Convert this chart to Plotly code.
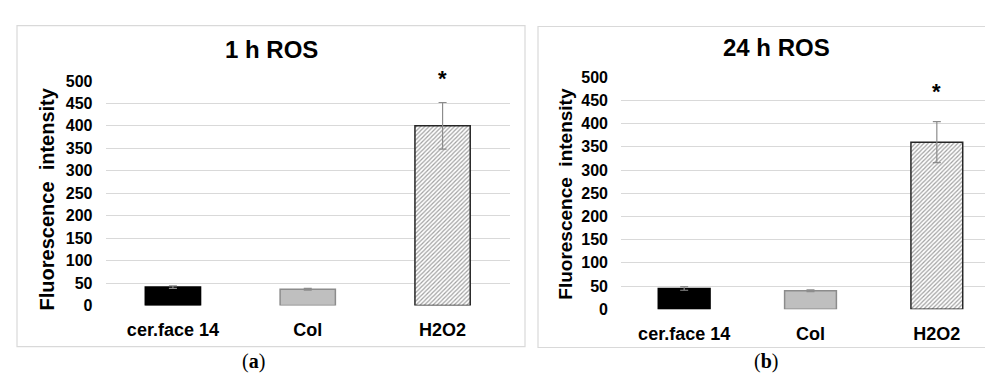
import plotly.graph_objects as go

categories = ["cer.face 14", "Col", "H2O2"]
ros_1h = [41, 36, 400]
ros_1h_err = [3, 2, 52]
ros_24h = [45, 40, 360]
ros_24h_err = [4, 2, 44]
stars = ["", "", "*"]
y_ticks = [0, 50, 100, 150, 200, 250, 300, 350, 400, 450, 500]

W, H = 993, 381
fill_colors = ["#000000", "#bfbfbf", "#ffffff"]
line_colors = ["#000000", "#8c8c8c", "#262626"]
patterns = ["", "", "/"]

fig = go.Figure()

def add_panel(vals, errs, xa, ya, star_shift):
    fig.add_trace(go.Bar(
        x=categories, y=vals, xaxis=xa, yaxis=ya, width=0.41,
        marker=dict(color=fill_colors, line=dict(color=line_colors, width=1.5),
                    pattern=dict(shape=patterns, fgcolor="#333333", bgcolor="#ffffff",
                                 size=3, solidity=0.4)),
        error_y=dict(type="data", array=errs, color="#8c8c8c", thickness=1.2, width=4),
        showlegend=False, hoverinfo="skip"))
    for c, v, e, s in zip(categories, vals, errs, stars):
        if s:
            fig.add_annotation(x=c, y=v + e, xref=xa, yref=ya, text=s,
                               showarrow=False, yanchor="bottom", yshift=star_shift,
                               font=dict(family="Liberation Sans", size=22, color="#000", weight="bold"))

add_panel(ros_1h, ros_1h_err, "x", "y", 10)
add_panel(ros_24h, ros_24h_err, "x2", "y2", 16)

ax_common = dict(showline=False, ticks="",
                 tickfont=dict(family="Liberation Sans", size=18, color="#000", weight=700),
                 showgrid=False, zeroline=False, ticklabelstandoff=12)
ay_common = dict(range=[0, 500], tickvals=y_ticks,
                 showgrid=True, gridcolor="#d9d9d9", gridwidth=1, zeroline=False, showline=False,
                 tickfont=dict(family="Liberation Sans", size=16, color="#000", weight=700),
                 ticklabelstandoff=12)

fig.update_layout(
    width=W, height=H, margin=dict(l=0, r=0, t=0, b=0),
    paper_bgcolor="#ffffff", plot_bgcolor="#ffffff",
    xaxis=dict(domain=[97.5 / W, 502 / W], anchor="y", **ax_common),
    yaxis=dict(domain=[(H - 303) / H, (H - 68) / H], anchor="x", **ay_common),
    xaxis2=dict(domain=[613 / W, 992 / W], anchor="y2", **ax_common),
    yaxis2=dict(domain=[(H - 307) / H, (H - 64) / H], anchor="x2", **ay_common),
)

# panel borders
for x0, x1, y0, y1 in [(9, 517, 10, 346), (530, 992, 11, 347)]:
    fig.add_shape(type="rect", xref="paper", yref="paper",
                  x0=x0 / W, x1=x1 / W, y0=1 - y0 / H, y1=1 - y1 / H,
                  line=dict(color="#d9d9d9", width=1.2), fillcolor="rgba(0,0,0,0)", layer="below")

def ann(x, y, text, size, family="Liberation Sans", angle=0, weight="bold"):
    fig.add_annotation(x=x / W, y=1 - y / H, xref="paper", yref="paper", text=text,
                       showarrow=False, textangle=angle, xanchor="center", yanchor="middle",
                       font=dict(family=family, size=size, color="#000", weight=weight))

ann(263, 35, "1 h ROS", 24)
ann(768, 33, "24 h ROS", 24)
ann(39, 192, "Fluorescence  intensity", 20, angle=-90)
ann(558, 186, "Fluorescence  intensity", 19, angle=-90)
ann(245, 362, "(<b>a</b>)", 20, family="Liberation Serif", weight="normal")
ann(758, 362, "(<b>b</b>)", 20, family="Liberation Serif", weight="normal")

fig.write_html("out.html")
